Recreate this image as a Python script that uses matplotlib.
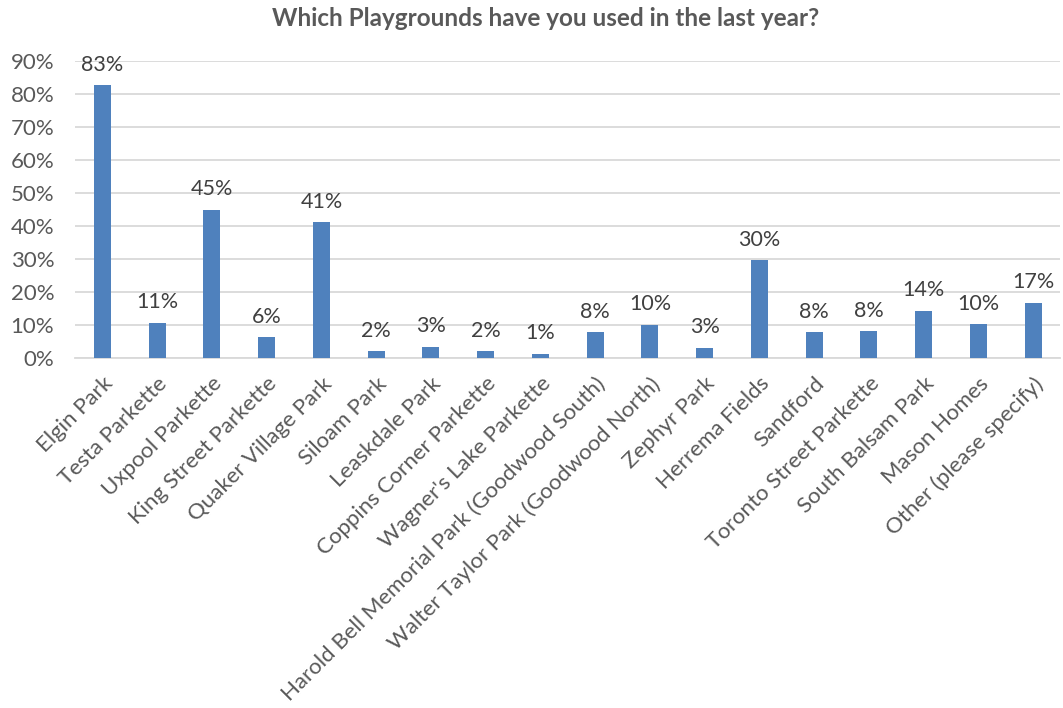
import matplotlib.pyplot as plt
from matplotlib.ticker import PercentFormatter, MultipleLocator

# playground usage survey results
parks = ['Elgin Park', 'Testa Parkette', 'Uxpool Parkette', 'King Street Parkette',
         'Quaker Village Park', 'Siloam Park', 'Leaskdale Park', 'Coppins Corner Parkette',
         "Wagner's Lake Parkette", 'Harold Bell Memorial Park (Goodwood South)',
         'Walter Taylor Park (Goodwood North)', 'Zephyr Park', 'Herrema Fields', 'Sandford',
         'Toronto Street Parkette', 'South Balsam Park', 'Mason Homes', 'Other (please specify)']
share = [82.6, 10.7, 45.0, 6.3, 41.2, 2.1, 3.4, 2.1, 1.4, 7.8,
         10.2, 3.2, 29.6, 7.8, 8.1, 14.4, 10.3, 16.8]

plt.rcParams['font.family'] = ['Lato', 'DejaVu Sans']
grey = '#595959'

fig = plt.figure(figsize=(10.63, 7.08), dpi=100)
ax = fig.add_axes([0.0706, 0.494, 0.927, 0.42])

x = range(len(parks))
ax.bar(x, share, width=0.31, color='#4f81bd', zorder=3)
for i, v in zip(x, share):
    ax.text(i, v + 3.2, f'{v:.0f}%', ha='center', va='bottom', fontsize=15.5, color='#404040')

ax.set_xlim(-0.5, len(parks) - 0.5)
ax.set_ylim(0, 90)
ax.yaxis.set_major_locator(MultipleLocator(10))
ax.yaxis.set_major_formatter(PercentFormatter(decimals=0))
ax.grid(axis='y', color='#d9d9d9', linewidth=1.3, zorder=0)
for s in ['top', 'right', 'left']:
    ax.spines[s].set_visible(False)
ax.spines['bottom'].set_color('#d9d9d9')
ax.spines['bottom'].set_linewidth(1.3)
ax.tick_params(length=0, labelsize=16, colors=grey)
ax.tick_params(axis='y', pad=15)
ax.tick_params(axis='x', pad=11)
ax.set_xticks(list(x))
ax.set_xticklabels(parks, rotation=45, ha='right', rotation_mode='anchor')

fig.text(0.513, 0.974, 'Which Playgrounds have you used in the last year?',
         ha='center', va='center', fontsize=17.5, fontweight='bold', color=grey)

fig.savefig('out.png', dpi=100)
